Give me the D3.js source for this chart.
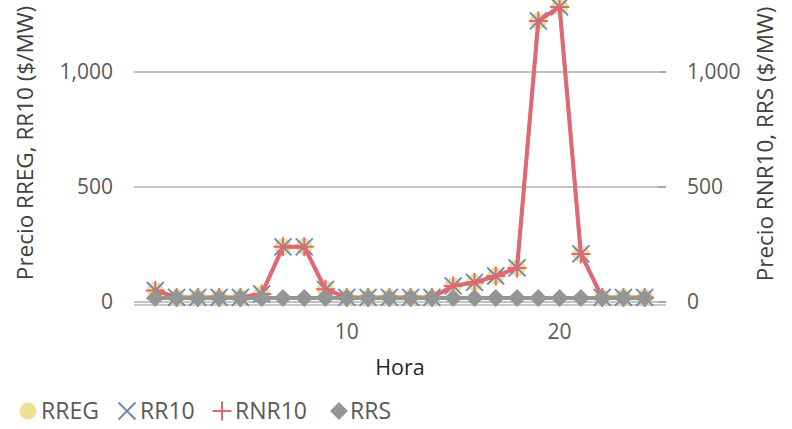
<!DOCTYPE html>
<html><head><meta charset="utf-8">
<script src="https://cdn.jsdelivr.net/npm/d3@7"></script>
<style>body{margin:0;background:#fff}svg{display:block}text{font-family:"Open Sans","Noto Sans",sans-serif}</style>
</head><body><svg id="c" width="792" height="429"></svg>
<script>
const hours = d3.range(1, 25);
const RREG  = [50,20,20,20,20,35,240,240,55,20,20,20,20,20,70,85,113,148,1222,1283,209,20,20,20];
const RR10  = [50,20,20,20,20,35,240,240,55,20,20,20,20,20,70,85,113,148,1222,1283,209,20,20,20];
const RNR10 = [50,20,20,20,20,35,240,240,55,20,20,20,20,20,70,85,113,148,1222,1283,209,20,20,20];
const RRS   = [17,17,17,17,17,17,17,17,17,17,17,17,17,17,17,17,17,17,17,17,17,17,17,17];
const yTicks = [0, 500, 1000];
const xTicks = [10, 20];
const seriesNames = ["RREG","RR10","RNR10","RRS"];

const svg = d3.select("#c");
const L = 134, R = 666, T0 = 72, B = 302;
const x = d3.scaleLinear().domain([0, 25]).range([L, R]);
const y = d3.scaleLinear().domain([0, 1000]).range([B, T0]);
const yR = d3.scaleLinear().domain([0, 1000]).range([B, T0]);

svg.append("g").selectAll("line").data(yTicks).join("line")
  .attr("x1", L).attr("x2", R).attr("y1", d => y(d)).attr("y2", d => y(d))
  .attr("stroke", "#c3c3c3").attr("stroke-width", 2);
svg.append("line").attr("x1", L).attr("x2", R).attr("y1", y(0)+3).attr("y2", y(0)+3)
  .attr("stroke", "#c8c8c8").attr("stroke-width", 2);
svg.append("g").selectAll("line").data(yTicks).join("line")
  .attr("x1", R-8).attr("x2", R).attr("y1", d => yR(d)).attr("y2", d => yR(d))
  .attr("stroke", "#aaa").attr("stroke-width", 2);

const fmt = d3.format(",");
const tickFS = 21;
svg.append("g").selectAll("text").data(yTicks).join("text")
  .attr("x", 113).attr("y", d => y(d)).attr("dy", "0.35em").attr("text-anchor", "end")
  .attr("font-size", tickFS).attr("fill", "#595959").text(d => fmt(d));
svg.append("g").selectAll("text").data(yTicks).join("text")
  .attr("x", 687).attr("y", d => yR(d)).attr("dy", "0.35em").attr("text-anchor", "start")
  .attr("font-size", tickFS).attr("fill", "#595959").text(d => fmt(d));
svg.append("g").selectAll("text").data(xTicks).join("text")
  .attr("x", d => x(d)).attr("y", 332).attr("dy", "0.35em").attr("text-anchor", "middle")
  .attr("font-size", tickFS).attr("fill", "#595959").text(d => d);

svg.append("text").attr("x", 400).attr("y", 367).attr("dy", "0.35em").attr("text-anchor", "middle")
  .attr("font-size", 21.5).attr("fill", "#262626").text("Hora");
svg.append("text").attr("transform", "translate(25,143) rotate(-90)").attr("dy", "0.35em")
  .attr("text-anchor", "middle").attr("font-size", 22.5).attr("fill", "#404040").text("Precio RREG, RR10 ($/MW)");
svg.append("text").attr("transform", "translate(765,144) rotate(-90)").attr("dy", "0.35em")
  .attr("text-anchor", "middle").attr("font-size", 22.5).attr("fill", "#404040").text("Precio RNR10, RRS ($/MW)");

const col = {RREG:"#efdf95", RR10:"#6c86b8", RNR10:"#e06874", RRS:"#959595"};
const line = (ys, sc) => d3.line().x((d,i) => x(hours[i])).y(d => sc(d))(ys);

function marker(g, type, cx, cy) {
  if (type === "RREG") g.append("circle").attr("cx", cx).attr("cy", cy).attr("r", 8.5).attr("fill", col.RREG);
  else if (type === "RR10") g.append("path").attr("d", `M${cx-8.5},${cy-8.5}L${cx+8.5},${cy+8.5}M${cx-8.5},${cy+8.5}L${cx+8.5},${cy-8.5}`)
      .attr("stroke", col.RR10).attr("stroke-width", 1.8).attr("fill", "none");
  else if (type === "RNR10") g.append("path").attr("d", `M${cx-9.5},${cy}L${cx+9.5},${cy}M${cx},${cy-9.5}L${cx},${cy+9.5}`)
      .attr("stroke", col.RNR10).attr("stroke-width", 2).attr("fill", "none");
  else g.append("path").attr("d", `M${cx},${cy-9}L${cx+9},${cy}L${cx},${cy+9}L${cx-9},${cy}Z`).attr("fill", col.RRS);
}

const data = {RREG, RR10, RNR10, RRS};
seriesNames.forEach(name => {
  const sc = name === "RRS" || name === "RNR10" ? yR : y;
  const g = svg.append("g");
  g.append("path").attr("d", line(data[name], sc)).attr("fill", "none")
    .attr("stroke", col[name]).attr("stroke-width", name === "RR10" ? 3 : 4).attr("stroke-linejoin", "round");
  data[name].forEach((v, i) => marker(g, name, x(hours[i]), sc(v)));
});

const leg = [{n:"RREG", mx:28, tx:41},{n:"RR10", mx:127, tx:140},{n:"RNR10", mx:222, tx:235},{n:"RRS", mx:339, tx:350}];
const lg = svg.append("g");
leg.forEach(l => {
  marker(lg, l.n, l.mx, 411);
  lg.append("text").attr("x", l.tx).attr("y", 411).attr("dy", "0.35em").attr("font-size", 23)
    .attr("fill", "#595959").text(l.n);
});
</script></body></html>
